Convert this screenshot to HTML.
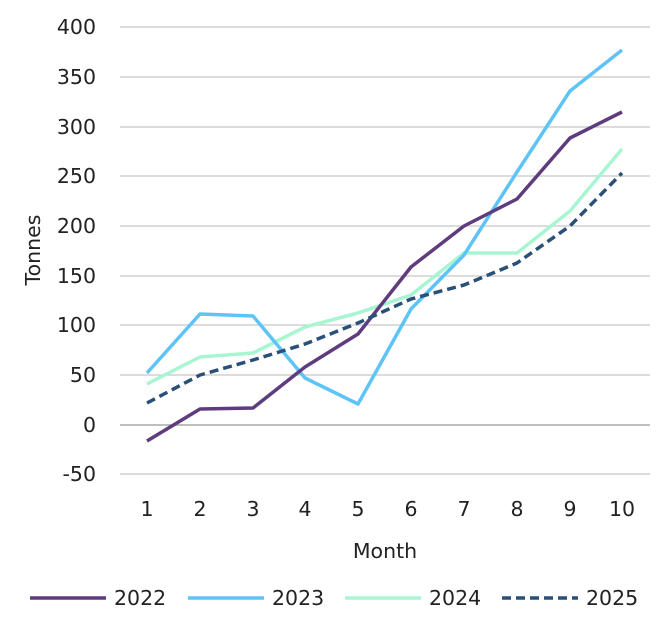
<!DOCTYPE html>
<html><head><style>
body{margin:0;background:#fff;}
svg text{font-family:"DejaVu Sans",sans-serif;font-size:20.5px;fill:#222;}
</style></head><body>
<svg width="667" height="630" viewBox="0 0 667 630" xmlns="http://www.w3.org/2000/svg">
<g stroke="#c8c8c8" stroke-width="1.3">
<line x1="120" y1="27" x2="650" y2="27"/><line x1="120" y1="77" x2="650" y2="77"/>
<line x1="120" y1="127" x2="650" y2="127"/><line x1="120" y1="176" x2="650" y2="176"/>
<line x1="120" y1="226" x2="650" y2="226"/><line x1="120" y1="276" x2="650" y2="276"/>
<line x1="120" y1="325" x2="650" y2="325"/><line x1="120" y1="375" x2="650" y2="375"/>
<line x1="120" y1="474" x2="650" y2="474"/>
</g>
<line x1="120" y1="425" x2="650" y2="425" stroke="#999" stroke-width="1.3"/>
<g text-anchor="end">
<text x="96" y="34">400</text><text x="96" y="84">350</text><text x="96" y="134">300</text>
<text x="96" y="183">250</text><text x="96" y="233">200</text><text x="96" y="283">150</text>
<text x="96" y="332">100</text><text x="96" y="382">50</text><text x="96" y="432">0</text>
<text x="96" y="481">-50</text>
</g>
<g text-anchor="middle">
<text x="147" y="516">1</text><text x="200" y="516">2</text><text x="253" y="516">3</text>
<text x="305" y="516">4</text><text x="358" y="516">5</text><text x="411" y="516">6</text>
<text x="464" y="516">7</text><text x="517" y="516">8</text><text x="570" y="516">9</text>
<text x="622" y="516">10</text>
<text x="385" y="558">Month</text>
<text transform="translate(40,250) rotate(-90)">Tonnes</text>
</g>
<g fill="none" stroke-width="3.5" stroke-linejoin="round">
<polyline stroke="#a8f5d2" points="147,384 200,357 253,353 305,327 358,313 411,295 464,253 517,253 570,211 622,149"/>
<polyline stroke="#5ec4f7" points="147,373 200,314 253,316 305,378 358,404 411,309 464,255 517,172 570,91 622,50"/>
<polyline stroke="#5f3c7e" points="147,441 200,409 253,408 305,367 358,334 411,267 464,226 517,199 570,138 622,112"/>
<polyline stroke="#2a5078" stroke-dasharray="9,5" points="147,403 200,375 253,360 305,344 358,323 411,299 464,285 517,263 570,226 622,173"/>
</g>
<g stroke-width="3.5">
<line x1="30" y1="598" x2="106" y2="598" stroke="#5f3c7e"/>
<line x1="188" y1="598" x2="264" y2="598" stroke="#5ec4f7"/>
<line x1="345" y1="598" x2="421" y2="598" stroke="#a8f5d2"/>
<line x1="502" y1="598" x2="578" y2="598" stroke="#2a5078" stroke-dasharray="9,5"/>
</g>
<text x="114" y="605">2022</text><text x="272" y="605">2023</text>
<text x="429" y="605">2024</text><text x="586" y="605">2025</text>
</svg>
</body></html>
